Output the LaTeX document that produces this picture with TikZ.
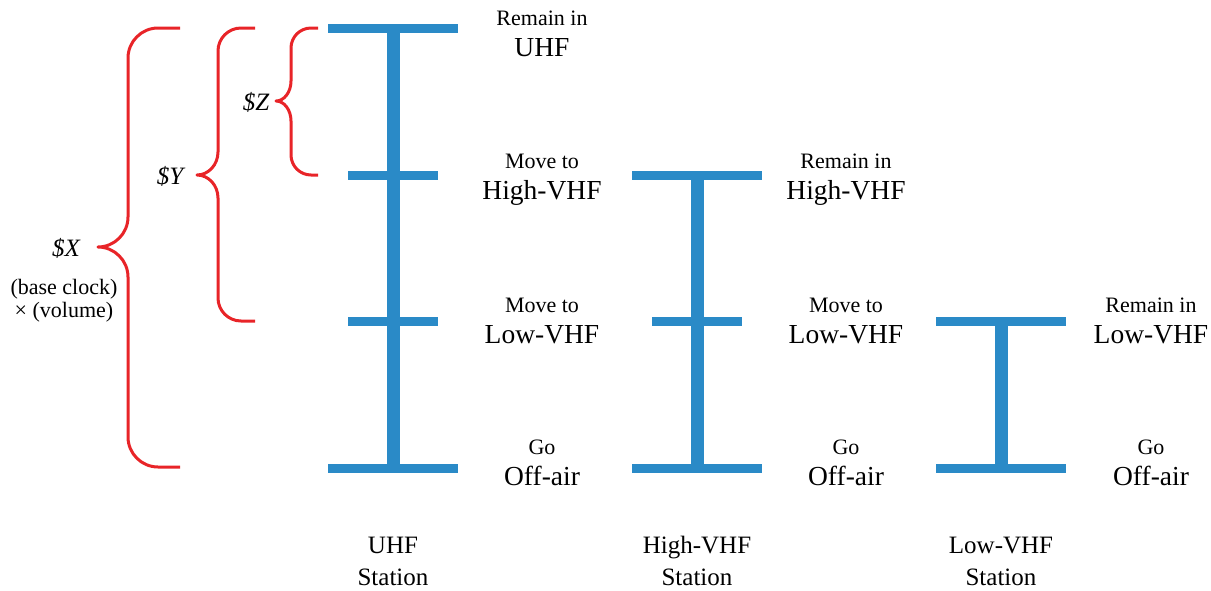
\documentclass[tikz,border=0pt]{standalone}
\usepackage{fontspec}
\setmainfont{Liberation Serif}
\definecolor{barblue}{RGB}{42,138,199}
\definecolor{bracered}{RGB}{232,36,40}
\tikzset{
  stem/.style={draw=barblue, line width=13pt},
  wide/.style={draw=barblue, line width=9pt},
  small/.style={anchor=base, inner sep=0pt, font=\fontsize{22}{22}\selectfont},
  large/.style={anchor=base, inner sep=0pt, font=\fontsize{27.5}{27.5}\selectfont},
  stationlbl/.style={anchor=base, inner sep=0pt, font=\fontsize{25}{25}\selectfont},
  price/.style={anchor=base, inner sep=0pt, font=\fontsize{25}{25}\selectfont\itshape},
  note/.style={anchor=base, inner sep=0pt, font=\fontsize{22}{22}\selectfont},
  curly/.style={draw=bracered, line width=3pt, line join=round},
}
% curly brace: right end x, spine x, tip x, top y, middle y, bottom y, corner radius
\newcommand\curlybrace[7]{%
  \draw[curly] (#1,#4) -- ({#2+#7},#4)
    .. controls ({#2+0.45*#7},#4) and (#2,{#4+0.45*#7}) .. (#2,{#4+#7})
    -- (#2,{#5-#7})
    .. controls (#2,{#5-0.45*#7}) and ({#3+0.55*(#2-#3)},#5) .. (#3,#5)
    .. controls ({#3+0.55*(#2-#3)},#5) and (#2,{#5+0.45*#7}) .. (#2,{#5+#7})
    -- (#2,{#6-#7})
    .. controls (#2,{#6-0.45*#7}) and ({#2+0.45*#7},#6) .. ({#2+#7},#6)
    -- (#1,#6);}
\begin{document}
\begin{tikzpicture}[x=1pt,y=-1pt]
\useasboundingbox (0,0) rectangle (1211,590);

% levels of the three stations
\coordinate (u0) at (393,28.5);  \coordinate (u1) at (393,175);
\coordinate (u2) at (393,321.5); \coordinate (u3) at (393,468);
\coordinate (h1) at (697,175);   \coordinate (h2) at (697,321.5);
\coordinate (h3) at (697,468);
\coordinate (l2) at (1001,321.5); \coordinate (l3) at (1001,468);

% UHF station
\draw[stem] (u0) -- (u3);
\draw[wide] ([xshift=-65pt]u0) -- ([xshift=65pt]u0);
\draw[wide] ([xshift=-45pt]u1) -- ([xshift=45pt]u1);
\draw[wide] ([xshift=-45pt]u2) -- ([xshift=45pt]u2);
\draw[wide] ([xshift=-65pt]u3) -- ([xshift=65pt]u3);

% High-VHF station
\draw[stem] (h1) -- (h3);
\draw[wide] ([xshift=-65pt]h1) -- ([xshift=65pt]h1);
\draw[wide] ([xshift=-45pt]h2) -- ([xshift=45pt]h2);
\draw[wide] ([xshift=-65pt]h3) -- ([xshift=65pt]h3);

% Low-VHF station
\draw[stem] (l2) -- (l3);
\draw[wide] ([xshift=-65pt]l2) -- ([xshift=65pt]l2);
\draw[wide] ([xshift=-65pt]l3) -- ([xshift=65pt]l3);

% outcome labels, UHF column
\node[small] (ua) at (542,25) {Remain in};
\node[large] (ub) at (542,56) {UHF};
\node[small] (uc) at (542,168) {Move to};
\node[large] (ud) at (542,199) {High-VHF};
\node[small] (ue) at (542,312) {Move to};
\node[large] (uf) at (542,343) {Low-VHF};
\node[small] (ug) at (542,454) {Go};
\node[large] (uh) at (542,485) {Off-air};

% outcome labels, High-VHF column
\node[small] (ha) at (846,168) {Remain in};
\node[large] (hb) at (846,199) {High-VHF};
\node[small] (hc) at (846,312) {Move to};
\node[large] (hd) at (846,343) {Low-VHF};
\node[small] (he) at (846,454) {Go};
\node[large] (hf) at (846,485) {Off-air};

% outcome labels, Low-VHF column
\node[small] (la) at (1151,312) {Remain in};
\node[large] (lb) at (1151,343) {Low-VHF};
\node[small] (lc) at (1151,454) {Go};
\node[large] (ld) at (1151,485) {Off-air};

% station names
\node[stationlbl] (s1a) at (393,553) {UHF};
\node[stationlbl] (s1b) at (393,585) {Station};
\node[stationlbl] (s2a) at (697,553) {High-VHF};
\node[stationlbl] (s2b) at (697,585) {Station};
\node[stationlbl] (s3a) at (1001,553) {Low-VHF};
\node[stationlbl] (s3b) at (1001,585) {Station};

% price braces
\curlybrace{180}{128}{98}{28}{247}{467}{30}
\curlybrace{255}{218}{197}{28}{175}{321}{23}
\curlybrace{318}{291}{276}{28}{101}{175}{20}

\node[price] (px) at (66,256) {\$X};
\node[note] (pxa) at (64,294) {(base clock)};
\node[note] (pxb) at (64,317) {× (volume)};
\node[price] (py) at (170,184) {\$Y};
\node[price] (pz) at (256,110) {\$Z};
\end{tikzpicture}
\end{document}
